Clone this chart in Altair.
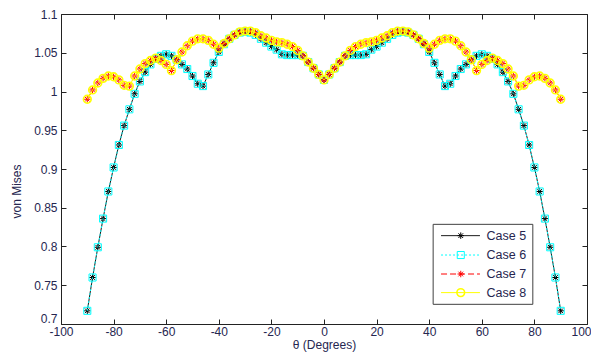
import altair as alt
import pandas as pd

# ---------------- data ----------------
theta = list(range(-90, 91, 2))

case5 = [0.717, 0.760, 0.799, 0.836, 0.871, 0.902, 0.931, 0.956, 0.977, 0.997,
         1.013, 1.025, 1.035, 1.042, 1.046, 1.048, 1.046, 1.041, 1.035, 1.029,
         1.020, 1.010, 1.007, 1.022, 1.037, 1.051, 1.061, 1.068, 1.073, 1.076,
         1.077, 1.076, 1.073, 1.068, 1.063, 1.058, 1.054, 1.048, 1.047, 1.047,
         1.047, 1.046, 1.038, 1.030, 1.022, 1.015,
         1.022, 1.030, 1.038, 1.046, 1.047, 1.047, 1.047, 1.048, 1.054, 1.058,
         1.063, 1.068, 1.073, 1.076, 1.077, 1.076, 1.073, 1.068, 1.061, 1.051,
         1.037, 1.022, 1.007, 1.010, 1.020, 1.029, 1.035, 1.041, 1.046, 1.048,
         1.046, 1.042, 1.035, 1.025, 1.013, 0.997, 0.977, 0.956, 0.931, 0.902,
         0.871, 0.836, 0.799, 0.760, 0.717]

# Case 6 coincides with Case 5 everywhere in the figure
case6 = [0.717, 0.760, 0.799, 0.836, 0.871, 0.902, 0.931, 0.956, 0.977, 0.997,
         1.013, 1.025, 1.035, 1.042, 1.046, 1.048, 1.046, 1.041, 1.035, 1.029,
         1.020, 1.010, 1.007, 1.022, 1.037, 1.051, 1.061, 1.068, 1.073, 1.076,
         1.077, 1.076, 1.073, 1.068, 1.063, 1.058, 1.054, 1.048, 1.047, 1.047,
         1.047, 1.046, 1.038, 1.030, 1.022, 1.015,
         1.022, 1.030, 1.038, 1.046, 1.047, 1.047, 1.047, 1.048, 1.054, 1.058,
         1.063, 1.068, 1.073, 1.076, 1.077, 1.076, 1.073, 1.068, 1.061, 1.051,
         1.037, 1.022, 1.007, 1.010, 1.020, 1.029, 1.035, 1.041, 1.046, 1.048,
         1.046, 1.042, 1.035, 1.025, 1.013, 0.997, 0.977, 0.956, 0.931, 0.902,
         0.871, 0.836, 0.799, 0.760, 0.717]

case7 = [0.990, 1.002, 1.011, 1.017, 1.020, 1.019, 1.015, 1.008, 1.007, 1.020,
         1.029, 1.036, 1.040, 1.043, 1.040, 1.035, 1.027, 1.041, 1.051, 1.059,
         1.065, 1.068, 1.068, 1.066, 1.061, 1.056, 1.062, 1.068, 1.073, 1.077,
         1.078, 1.078, 1.076, 1.072, 1.069, 1.066, 1.064, 1.063, 1.061, 1.058,
         1.053, 1.046, 1.038, 1.030, 1.022, 1.015,
         1.022, 1.030, 1.038, 1.046, 1.053, 1.058, 1.061, 1.063, 1.064, 1.066,
         1.069, 1.072, 1.076, 1.078, 1.078, 1.077, 1.073, 1.068, 1.062, 1.056,
         1.061, 1.066, 1.068, 1.068, 1.065, 1.059, 1.051, 1.041, 1.027, 1.035,
         1.040, 1.043, 1.040, 1.036, 1.029, 1.020, 1.007, 1.008, 1.015, 1.019,
         1.020, 1.017, 1.011, 1.002, 0.990]

# Case 8 coincides with Case 7 everywhere in the figure
case8 = [0.990, 1.002, 1.011, 1.017, 1.020, 1.019, 1.015, 1.008, 1.007, 1.020,
         1.029, 1.036, 1.040, 1.043, 1.040, 1.035, 1.027, 1.041, 1.051, 1.059,
         1.065, 1.068, 1.068, 1.066, 1.061, 1.056, 1.062, 1.068, 1.073, 1.077,
         1.078, 1.078, 1.076, 1.072, 1.069, 1.066, 1.064, 1.063, 1.061, 1.058,
         1.053, 1.046, 1.038, 1.030, 1.022, 1.015,
         1.022, 1.030, 1.038, 1.046, 1.053, 1.058, 1.061, 1.063, 1.064, 1.066,
         1.069, 1.072, 1.076, 1.078, 1.078, 1.077, 1.073, 1.068, 1.062, 1.056,
         1.061, 1.066, 1.068, 1.068, 1.065, 1.059, 1.051, 1.041, 1.027, 1.035,
         1.040, 1.043, 1.040, 1.036, 1.029, 1.020, 1.007, 1.008, 1.015, 1.019,
         1.020, 1.017, 1.011, 1.002, 0.990]

series_names = ["Case 5", "Case 6", "Case 7", "Case 8"]
series_values = [case5, case6, case7, case8]

x_ticks = [-100, -80, -60, -40, -20, 0, 20, 40, 60, 80, 100]
y_ticks = [0.7, 0.75, 0.8, 0.85, 0.9, 0.95, 1, 1.05, 1.1]

# legend layout (in data coordinates)
legend_box = pd.DataFrame({"x": [41.5], "x2": [79.4], "y": [0.8286], "y2": [0.7254]})
legend_rows_y = [0.814, 0.789, 0.7645, 0.7405]
legend_line_x = (44.5, 59.3)
legend_marker_x = 52.0
legend_text_x = 61.8

# ---------------- styles ----------------
STAR = "M-1,0L1,0M0,-1L0,1M-0.72,-0.72L0.72,0.72M-0.72,0.72L0.72,-0.72"
styles = {
    "Case 5": dict(color="#000000", dash=None, shape=STAR, size=42, psw=1.0, lsw=0.9),
    "Case 6": dict(color="#00ffff", dash=[2, 2], shape="square", size=50, psw=1.0, lsw=1.0),
    "Case 7": dict(color="#ff0000", dash=[6, 3], shape=STAR, size=42, psw=1.0, lsw=1.0),
    "Case 8": dict(color="#ffff00", dash=None, shape="circle", size=60, psw=1.6, lsw=1.0),
}

FONT = "Liberation Sans"
TXT = "#262650"
xscale = alt.Scale(domain=[-100, 100], nice=False)
yscale = alt.Scale(domain=[0.7, 1.1], nice=False, zero=False)

common_axis = dict(domain=False, grid=False, tickSize=5, offset=-5, tickColor="#222222",
                   tickWidth=1, labelFont=FONT, labelFontSize=12, labelColor=TXT,
                   labelFlush=False, labelOverlap=False,
                   titleFont=FONT, titleFontSize=12, titleFontWeight="normal", titleColor=TXT)

ax_bottom = alt.Axis(values=x_ticks, title="θ (Degrees)", labelPadding=2, titlePadding=2,
                     labelOffset={"condition": {"test": "datum.value == 100", "value": -6}, "value": 0},
                     labelExpr="datum.value + ''", **common_axis)
ax_left = alt.Axis(values=y_ticks, title="von Mises", labelPadding=4, titlePadding=10,
                   titleY=177,
                   labelOffset={"condition": {"test": "datum.value == 0.7", "value": -6}, "value": 0},
                   labelExpr="datum.value + ''", **common_axis)
ax_top = alt.Axis(orient="top", values=x_ticks, labels=False, title=None, **common_axis)
ax_right = alt.Axis(orient="right", values=y_ticks, labels=False, title=None, **common_axis)

layers = []
first = True
for name, vals in zip(series_names, series_values):
    st = styles[name]
    df = pd.DataFrame({"theta": theta, "v": vals})
    xa = ax_bottom if first else None
    ya = ax_left if first else None
    first = False
    line_kwargs = dict(color=st["color"], strokeWidth=st["lsw"])
    if st["dash"] is not None:
        line_kwargs["strokeDash"] = st["dash"]
    line = alt.Chart(df).mark_line(**line_kwargs).encode(
        x=alt.X("theta:Q", scale=xscale, axis=xa),
        y=alt.Y("v:Q", scale=yscale, axis=ya),
    )
    pts = alt.Chart(df).mark_point(shape=st["shape"], filled=False, size=st["size"],
                                   strokeWidth=st["psw"], color=st["color"], opacity=1).encode(
        x=alt.X("theta:Q", scale=xscale, axis=None),
        y=alt.Y("v:Q", scale=yscale, axis=None),
    )
    layers += [line, pts]

# legend box (carries the top/right tick axes)
box = alt.Chart(legend_box).mark_rect(fill="white", stroke="#404040", strokeWidth=1).encode(
    x=alt.X("x:Q", scale=xscale, axis=ax_top),
    x2="x2:Q",
    y=alt.Y("y:Q", scale=yscale, axis=ax_right),
    y2="y2:Q",
)
layers.append(box)

for name, ry in zip(series_names, legend_rows_y):
    st = styles[name]
    ldf = pd.DataFrame({"x1": [legend_line_x[0]], "x2": [legend_line_x[1]], "xm": [legend_marker_x],
                        "xt": [legend_text_x], "y": [ry], "label": [name]})
    rule_kwargs = dict(color=st["color"], strokeWidth=st["lsw"])
    if st["dash"] is not None:
        rule_kwargs["strokeDash"] = st["dash"]
    layers.append(alt.Chart(ldf).mark_rule(**rule_kwargs).encode(
        x=alt.X("x1:Q", scale=xscale, axis=None), x2="x2:Q",
        y=alt.Y("y:Q", scale=yscale, axis=None)))
    layers.append(alt.Chart(ldf).mark_point(shape=st["shape"], filled=False, size=st["size"],
                                            strokeWidth=st["psw"], color=st["color"], opacity=1).encode(
        x=alt.X("xm:Q", scale=xscale, axis=None),
        y=alt.Y("y:Q", scale=yscale, axis=None)))
    layers.append(alt.Chart(ldf).mark_text(align="left", baseline="middle", font=FONT,
                                           fontSize=12.5, color=TXT).encode(
        x=alt.X("xt:Q", scale=xscale, axis=None),
        y=alt.Y("y:Q", scale=yscale, axis=None),
        text="label:N"))

chart = alt.layer(*layers).resolve_axis(x="independent", y="independent").properties(
    width=526, height=310,
    autosize=alt.AutoSizeParams(type="none"),
    padding={"left": 53, "top": 6, "right": 4, "bottom": 29},
    background="white",
).configure_view(stroke="#222222", strokeWidth=1)

chart.save("out.html", embed_options={"renderer": "svg", "actions": False})
